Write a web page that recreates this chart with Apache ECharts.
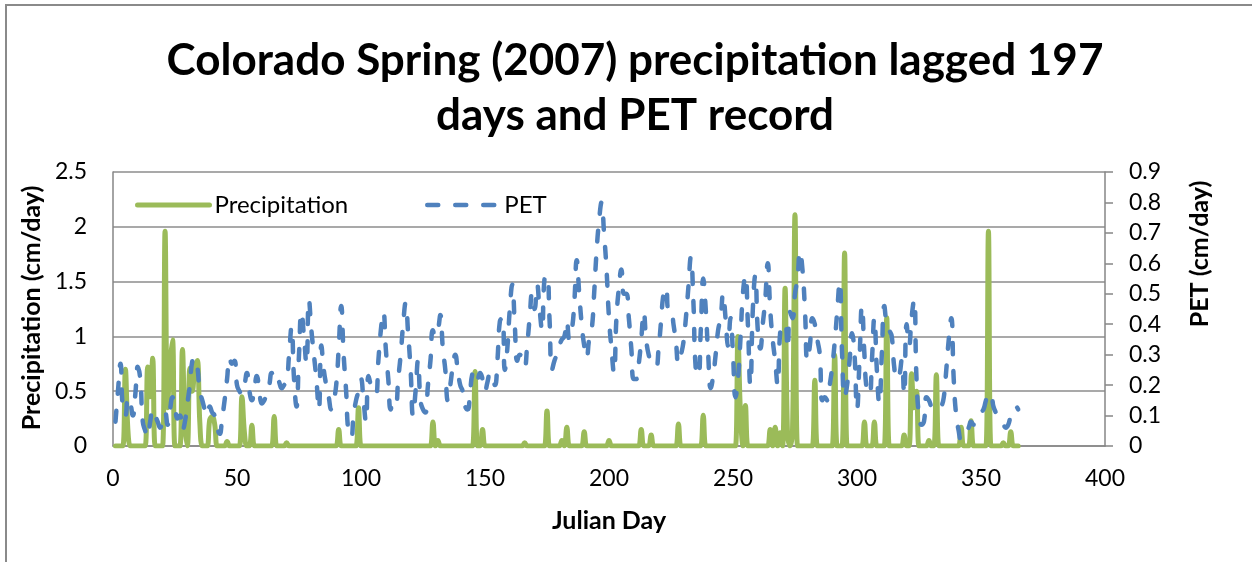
<!DOCTYPE html>
<html>
<head>
<meta charset="utf-8">
<title>Colorado Spring (2007) precipitation and PET</title>
<script src="https://cdn.jsdelivr.net/npm/echarts@6/dist/echarts.min.js"></script>
<style>
  html, body { margin: 0; padding: 0; background: #fff; }
  #chart { width: 1252px; height: 562px; }
</style>
</head>
<body>
<div id="chart"></div>
<script>
// ---- data -------------------------------------------------------------
const titleLines = ['Colorado Spring (2007) precipitation lagged 197', 'days and PET record'];
const seriesNames = ['Precipitation', 'PET'];
const xAxisTitle = 'Julian Day';
const leftAxisTitle = 'Precipitation (cm/day)';
const rightAxisTitle = 'PET (cm/day)';

const xTicks = [0, 50, 100, 150, 200, 250, 300, 350, 400];
const precipTicks = [0, 0.5, 1, 1.5, 2, 2.5];
const petTicks = [0, 0.1, 0.2, 0.3, 0.4, 0.5, 0.6, 0.7, 0.8, 0.9];

// days with measurable precipitation (lagged 197 days) and amounts, cm/day
const rainDay = [5, 6, 14, 15, 16, 21, 22, 23, 24, 28, 29, 31, 32, 33, 34, 35, 39, 40, 41, 46,
  52, 53, 56, 65, 70, 91, 99, 129, 131, 146, 149, 166, 175, 181, 183, 190, 200, 213, 217, 228,
  238, 252, 253, 255, 265, 267, 269, 271, 272, 274, 275, 283, 291, 295, 303, 307, 312, 319, 322, 323,
  324, 329, 332, 342, 346, 353, 359, 362];
const rainCm = [0.70, 0.15, 0.72, 0.45, 0.80, 1.96, 0.35, 0.75, 0.97, 0.88, 0.20, 0.71, 0.50, 0.70, 0.78, 0.22, 0.24, 0.27, 0.20, 0.04,
  0.45, 0.12, 0.19, 0.27, 0.03, 0.15, 0.35, 0.22, 0.05, 0.68, 0.15, 0.03, 0.32, 0.05, 0.17, 0.13, 0.05, 0.15, 0.10, 0.20,
  0.28, 1.00, 0.30, 0.37, 0.15, 0.17, 0.12, 1.44, 0.10, 0.15, 2.11, 0.60, 0.83, 1.76, 0.22, 0.22, 1.17, 0.10, 0.66, 0.35,
  0.50, 0.05, 0.65, 0.17, 0.23, 1.96, 0.03, 0.13];

// daily potential evapotranspiration, cm/day, days 1..365
const petCm = [
  0.08, 0.18, 0.27, 0.12, 0.10, 0.16, 0.14, 0.10, 0.17, 0.26,
  0.22, 0.08, 0.05, 0.03, 0.08, 0.12, 0.10, 0.08, 0.06, 0.09,
  0.11, 0.07, 0.12, 0.16, 0.13, 0.09, 0.10, 0.05, 0.08, 0.14,
  0.20, 0.28, 0.29, 0.26, 0.18, 0.15, 0.12, 0.10, 0.13, 0.11,
  0.10, 0.06, 0.04, 0.09, 0.15, 0.22, 0.29, 0.27, 0.28, 0.20,
  0.18, 0.17, 0.20, 0.24, 0.18, 0.15, 0.19, 0.23, 0.18, 0.14,
  0.15, 0.17, 0.20, 0.24, 0.22, 0.23, 0.21, 0.19, 0.20, 0.21,
  0.30, 0.39, 0.22, 0.13, 0.30, 0.44, 0.36, 0.27, 0.48, 0.38,
  0.30, 0.22, 0.12, 0.33, 0.25, 0.20, 0.16, 0.12, 0.15, 0.20,
  0.32, 0.46, 0.30, 0.18, 0.04, 0.03, 0.10, 0.15, 0.18, 0.22,
  0.15, 0.08, 0.23, 0.20, 0.18, 0.17, 0.28, 0.38, 0.44, 0.32,
  0.22, 0.12, 0.15, 0.14, 0.22, 0.30, 0.40, 0.47, 0.37, 0.25,
  0.10, 0.18, 0.28, 0.15, 0.12, 0.11, 0.20, 0.28, 0.38, 0.36,
  0.38, 0.43, 0.32, 0.25, 0.15, 0.20, 0.26, 0.30, 0.25, 0.20,
  0.18, 0.13, 0.12, 0.18, 0.24, 0.25, 0.22, 0.24, 0.22, 0.18,
  0.21, 0.24, 0.22, 0.20, 0.28, 0.41, 0.42, 0.25, 0.32, 0.45,
  0.53, 0.40, 0.28, 0.30, 0.29, 0.26, 0.33, 0.42, 0.50, 0.45,
  0.53, 0.45, 0.38, 0.55, 0.56, 0.42, 0.25, 0.28, 0.30, 0.33,
  0.35, 0.36, 0.41, 0.35, 0.38, 0.47, 0.61, 0.50, 0.40, 0.33,
  0.29, 0.35, 0.38, 0.50, 0.64, 0.74, 0.80, 0.70, 0.58, 0.42,
  0.32, 0.24, 0.42, 0.52, 0.58, 0.50, 0.50, 0.42, 0.32, 0.22,
  0.22, 0.27, 0.35, 0.44, 0.35, 0.30, 0.28, 0.27, 0.26, 0.32,
  0.41, 0.50, 0.52, 0.45, 0.45, 0.40, 0.34, 0.27, 0.30, 0.34,
  0.42, 0.52, 0.62, 0.48, 0.25, 0.23, 0.38, 0.55, 0.45, 0.30,
  0.19, 0.23, 0.30, 0.38, 0.42, 0.50, 0.42, 0.33, 0.42, 0.30,
  0.16, 0.22, 0.35, 0.50, 0.56, 0.40, 0.20, 0.45, 0.56, 0.38,
  0.32, 0.40, 0.48, 0.60, 0.45, 0.35, 0.28, 0.20, 0.37, 0.40,
  0.40, 0.32, 0.44, 0.42, 0.50, 0.55, 0.64, 0.58, 0.45, 0.28,
  0.33, 0.42, 0.40, 0.35, 0.30, 0.15, 0.16, 0.15, 0.20, 0.26,
  0.34, 0.44, 0.54, 0.30, 0.16, 0.20, 0.28, 0.37, 0.30, 0.12,
  0.28, 0.46, 0.30, 0.18, 0.17, 0.28, 0.42, 0.25, 0.14, 0.30,
  0.46, 0.40, 0.38, 0.36, 0.26, 0.22, 0.23, 0.28, 0.17, 0.40,
  0.33, 0.42, 0.48, 0.22, 0.10, 0.07, 0.08, 0.16, 0.15, 0.13,
  0.12, 0.12, 0.12, 0.13, 0.16, 0.25, 0.35, 0.42, 0.22, 0.10,
  0.05, 0.02, 0.03, 0.05, 0.06, 0.08, 0.07, 0.08, 0.09, 0.11,
  0.12, 0.15, 0.17, 0.17, 0.13, 0.11, 0.10, 0.08, 0.07, 0.06,
  0.07, 0.10, 0.12, 0.13, 0.12
];

// ---- series assembly ---------------------------------------------------
const julianDays = petCm.map((_, i) => i + 1);
const rainByDay = new Map(rainDay.map((d, i) => [d, rainCm[i]]));
const precipData = julianDays.map(d => [d, rainByDay.has(d) ? rainByDay.get(d) : 0]);
const petData = julianDays.map((d, i) => [d, petCm[i]]);

// ---- styling -----------------------------------------------------------
const FONT = 'Lato, "Open Sans", "Noto Sans", sans-serif';
const GREEN = '#9BBB59';
const BLUE = '#4F81BD';
const AXIS_GREY = '#868686';
const GRID_GREY = '#8c8c8c';
const labelStyle = { fontFamily: FONT, fontSize: 23, color: '#000' };
const legendText = { fontFamily: FONT, fontSize: 24, color: '#000' };
const axisTitleStyle = { fontFamily: FONT, fontWeight: 'bold', fontSize: 25, fill: '#000', align: 'center', verticalAlign: 'middle' };

const precipLine = { color: GREEN, width: 5, cap: 'round', join: 'round' };
const petLine = { color: BLUE, width: 4.5, type: [11, 17], cap: 'round', join: 'round' };

const step = arr => arr[1] - arr[0];

const chart = echarts.init(document.getElementById('chart'), null, { renderer: 'canvas' });

const legendCommon = {
  top: 188, itemWidth: 72, itemHeight: 14, itemGap: 0,
  itemStyle: { opacity: 0 },   // line-only legend keys, no marker dot
  textStyle: legendText
};

const option = {
  animation: false,
  backgroundColor: '#fff',
  title: {
    text: titleLines.join('\n'),
    left: 630,
    textAlign: 'center',
    top: 28,
    textStyle: { fontFamily: FONT, fontWeight: 'bold', fontSize: 44, lineHeight: 55, color: '#000' }
  },
  legend: [
    Object.assign({ data: [seriesNames[0]], left: 130, lineStyle: { width: 5, cap: 'round' } }, legendCommon),
    Object.assign({ data: [seriesNames[1]], left: 420, lineStyle: { width: 4.5, type: [11, 17], cap: 'round' } }, legendCommon)
  ],
  grid: { left: 113, right: 147, top: 172, bottom: 116 },
  xAxis: {
    type: 'value',
    min: xTicks[0], max: xTicks[xTicks.length - 1], interval: step(xTicks),
    axisLine: { show: true, onZero: true, lineStyle: { color: AXIS_GREY, width: 1.5 } },
    axisTick: { show: false },
    splitLine: { show: false },
    axisLabel: Object.assign({ margin: 21 }, labelStyle)
  },
  yAxis: [
    {
      type: 'value', position: 'left',
      min: precipTicks[0], max: precipTicks[precipTicks.length - 1], interval: step(precipTicks),
      axisLine: { show: true, lineStyle: { color: AXIS_GREY, width: 1.5 } },
      axisTick: { show: false },
      splitLine: { show: true, lineStyle: { color: GRID_GREY, width: 1.5 } },
      axisLabel: Object.assign({ margin: 26 }, labelStyle)
    },
    {
      type: 'value', position: 'right',
      min: petTicks[0], max: petTicks[petTicks.length - 1], interval: 0.1,
      axisLine: { show: true, lineStyle: { color: AXIS_GREY, width: 1.5 } },
      axisTick: { show: true, inside: false, length: 8, lineStyle: { color: AXIS_GREY, width: 1.5 } },
      splitLine: { show: false },
      axisLabel: Object.assign({ margin: 24, formatter: v => String(Math.round(v * 10) / 10) }, labelStyle)
    }
  ],
  series: [
    {
      name: seriesNames[0], type: 'line', yAxisIndex: 0,
      data: precipData, smooth: 0.4, symbol: 'none', showSymbol: false,
      lineStyle: precipLine,
      itemStyle: { color: GREEN },
      z: 2
    },
    {
      name: seriesNames[1], type: 'line', yAxisIndex: 1,
      data: petData, smooth: 0.5, symbol: 'none', showSymbol: false,
      lineStyle: petLine,
      itemStyle: { color: BLUE },
      z: 3
    }
  ],
  graphic: [
    {
      type: 'rect', silent: true, z: -1,
      shape: { x: 6, y: 5, width: 1400, height: 700 },
      style: { fill: 'none', stroke: '#8a8a8a', lineWidth: 2 }
    },
    {
      type: 'text', x: 32, y: 308, rotation: Math.PI / 2,
      style: Object.assign({ text: leftAxisTitle }, axisTitleStyle)
    },
    {
      type: 'text', x: 1200, y: 254, rotation: Math.PI / 2,
      style: Object.assign({ text: rightAxisTitle }, axisTitleStyle)
    },
    {
      type: 'text', x: 609, y: 521,
      style: Object.assign({ text: xAxisTitle }, axisTitleStyle)
    }
  ]
};

chart.setOption(option);
</script>
</body>
</html>
